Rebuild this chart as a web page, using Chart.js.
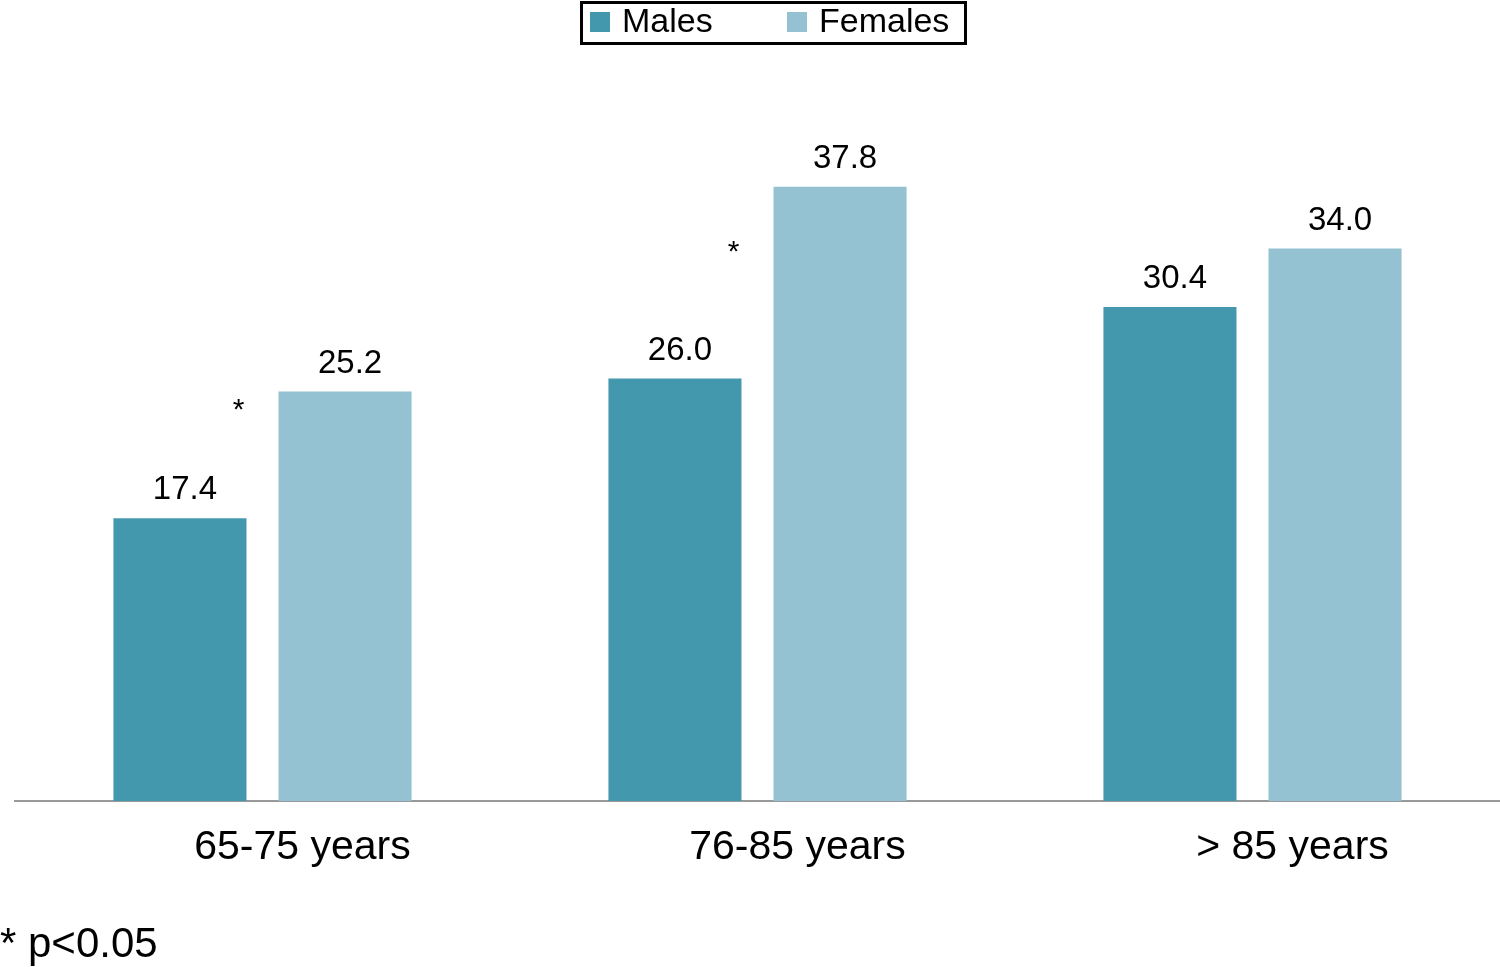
<!DOCTYPE html>
<html>
<head>
<meta charset="utf-8">
<script src="https://cdn.jsdelivr.net/npm/chart.js@4.4.0/dist/chart.umd.min.js"></script>
<style>
  html, body { margin: 0; padding: 0; background: #fff; }
  #wrap { width: 1500px; height: 967px; position: relative; }
</style>
</head>
<body>
<div id="wrap"><canvas id="barChart"></canvas></div>
<script>
const ageGroups = ['65-75 years', '76-85 years', '> 85 years'];
const males = [17.4, 26.0, 30.4];
const females = [25.2, 37.8, 34.0];
// height (in % units) of the significance asterisk, null = none
const sigMarks = [24.4, 34.1, null];
const footnote = '* p<0.05';

const maleColor = '#4498ae';
const femaleColor = '#94c2d3';
const fontFamily = '"Liberation Sans", Arial, Helvetica, sans-serif';

// value labels, asterisks, legend box, footnote
const extrasPlugin = {
  id: 'extras',
  afterDatasetsDraw(chart) {
    const ctx = chart.ctx;
    const yScale = chart.scales.y;
    ctx.save();
    ctx.fillStyle = '#000';
    ctx.textAlign = 'center';
    ctx.textBaseline = 'alphabetic';
    ctx.font = '33px ' + fontFamily;
    chart.data.datasets.forEach((ds, i) => {
      chart.getDatasetMeta(i).data.forEach((bar, j) => {
        ctx.fillText(ds.data[j].toFixed(1), bar.x + 5, bar.y - 19);
      });
    });

    // asterisks
    ctx.font = '30px ' + fontFamily;
    ctx.textBaseline = 'middle';
    const maleBars = chart.getDatasetMeta(0).data;
    sigMarks.forEach((v, j) => {
      if (v === null) return;
      const bar = maleBars[j];
      ctx.fillText('*', bar.x + bar.width / 2 - 8, yScale.getPixelForValue(v) + 6);
    });

    // legend
    ctx.textAlign = 'left';
    ctx.textBaseline = 'middle';
    ctx.font = '34px ' + fontFamily;
    ctx.strokeStyle = '#000';
    ctx.lineWidth = 3;
    ctx.strokeRect(581.5, 2.5, 384, 41);
    const legendX = [590, 787];
    chart.data.datasets.forEach((ds, i) => {
      ctx.fillStyle = ds.backgroundColor;
      ctx.fillRect(legendX[i], 12, 20, 20);
      ctx.fillStyle = '#000';
      ctx.fillText(ds.label, legendX[i] + 32, 23);
    });

    // footnote
    ctx.font = '42px ' + fontFamily;
    ctx.fillText(footnote, 0, 945);
    ctx.restore();
  }
};

new Chart(document.getElementById('barChart'), {
  type: 'bar',
  data: {
    labels: ageGroups,
    datasets: [
      { label: 'Males', data: males, backgroundColor: maleColor },
      { label: 'Females', data: females, backgroundColor: femaleColor }
    ]
  },
  options: {
    responsive: true,
    maintainAspectRatio: false,
    animation: false,
    devicePixelRatio: 1,
    categoryPercentage: 0.667,
    barPercentage: 0.806,
    layout: { padding: { top: 151, left: 15, right: 0, bottom: 0 } },
    plugins: {
      legend: { display: false },
      tooltip: { enabled: false }
    },
    scales: {
      x: {
        grid: { display: true, drawOnChartArea: false, drawTicks: false },
        border: { display: true, color: '#999999', width: 2 },
        ticks: {
          color: '#000',
          font: { family: fontFamily, size: 41 },
          padding: 22,
          labelOffset: 40,
          maxRotation: 0
        },
        afterFit(scale) { scale.height = 166; }
      },
      y: {
        display: false,
        min: 0,
        max: 40
      }
    }
  },
  plugins: [extrasPlugin]
});
</script>
</body>
</html>
